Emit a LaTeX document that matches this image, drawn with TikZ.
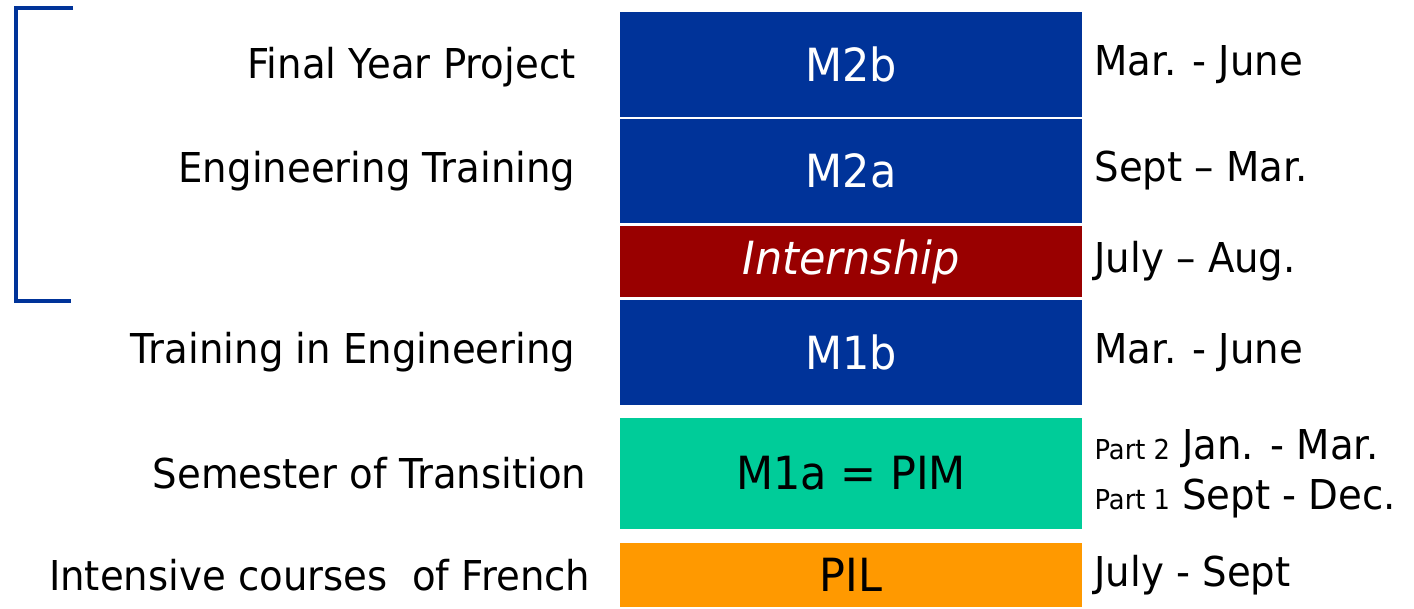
\documentclass[tikz,border=0pt]{standalone}
\usepackage{fontspec}
\setmainfont{DejaVu Sans}[FakeStretch=0.94]
\usetikzlibrary{positioning}

\definecolor{yearblue}{RGB}{0,51,153}
\definecolor{stagered}{RGB}{153,0,0}
\definecolor{pimgreen}{RGB}{0,204,153}
\definecolor{pilorange}{RGB}{255,153,0}

\newcommand{\partsize}{\fontsize{7.8}{9}\selectfont}

\begin{document}
\begin{tikzpicture}[x=0.01cm,y=-0.01cm,
    period/.style={minimum width=4.62cm, inner sep=0pt, font=\fontsize{13}{15}\selectfont},
    topic/.style={inner sep=0pt, font=\fontsize{11.7}{14}\selectfont},
    months/.style={inner sep=0pt, align=left, font=\fontsize{11.7}{14.2}\selectfont}]
            \useasboundingbox (0,0) rectangle (1414,608);

            % semesters
            \node[period, fill=yearblue, text=white, minimum height=1.05cm] (m2b) at (851,64.5) {M2b};
            \node[period, fill=yearblue, text=white, minimum height=1.04cm] (m2a) at (851,171) {M2a};
            \node[period, fill=stagered, text=white, minimum height=0.71cm] (stage) at (851,261.5) {\itshape Internship};
            \node[period, fill=yearblue, text=white, minimum height=1.05cm] (m1b) at (851,352.5) {M1b};
            \node[period, fill=pimgreen, text=black, minimum height=1.11cm] (m1a) at (851,473.5) {M1a = PIM};
            \node[period, fill=pilorange, text=black, minimum height=0.64cm] (pil) at (851,575) {PIL};

            % what is taught
            \node[topic, left=0.43cm of m2b, yshift=-0.025cm] (m2btopic) {Final Year Project};
            \node[topic, left=0.43cm of m2a] (m2atopic) {Engineering Training};
            \node[topic, left=0.43cm of m1b] (m1btopic) {Training in Engineering};
            \node[topic, left=0.32cm of m1a] (m1atopic) {Semester of Transition};
            \node[topic, left=0.28cm of pil] (piltopic) {Intensive courses\ \ of French};

            % when
            \node[months, right=0.11cm of m2b] (m2bmonths) {Mar. - June};
            \node[months, right=0.11cm of m2a] (m2amonths) {Sept – Mar.};
            \node[months, right=0.11cm of stage] (stagemonths) {July – Aug.};
            \node[months, right=0.11cm of m1b] (m1bmonths) {Mar. - June};
            \node[months, right=0.11cm of m1a] (m1amonths) {{\partsize Part 2} Jan. - Mar.\\{\partsize Part 1} Sept - Dec.};
            \node[months, right=0.11cm of pil] (pilmonths) {July - Sept};

            % bracket
            \draw[yearblue, line width=1.2pt] (73,8) -- (16,8) -- (16,301) -- (71,301);

        \end{tikzpicture}
\end{document}
